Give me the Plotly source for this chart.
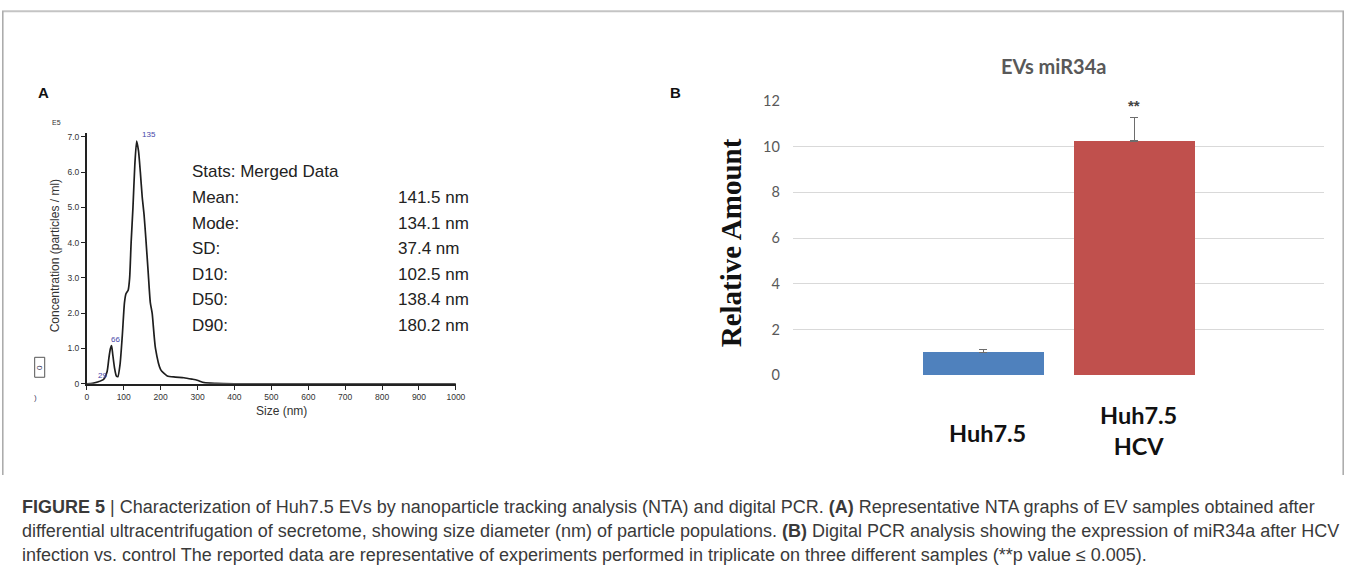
import plotly.graph_objects as go

W, H = 1354, 567

# ---- Panel A: NTA size distribution (concentration in units of 1E5 particles/ml)
size_nm = [0, 15, 29, 45, 55, 60, 64, 67, 70, 75, 80, 84, 90, 96, 102, 106, 112,
           116, 120, 125, 130, 135, 140, 145, 150, 155, 160, 166, 172, 177, 186,
           200, 218, 240, 263, 285, 299, 318, 350, 400, 600, 1000]
conc_e5 = [0, 0.01, 0.05, 0.12, 0.35, 0.75, 1.0, 1.08, 0.85, 0.45, 0.22, 0.2, 0.55,
           1.35, 2.3, 2.55, 2.65, 3.0, 4.0, 5.0, 6.2, 6.88, 6.6, 6.0, 5.3, 4.8,
           4.1, 3.2, 2.3, 2.0, 1.0, 0.4, 0.22, 0.19, 0.17, 0.13, 0.1, 0.03, 0.01,
           0, 0, 0]
peak_sizes = [135, 66, 29]
peak_conc = [6.88, 1.08, 0.05]

stat_names = ["Mean:", "Mode:", "SD:", "D10:", "D50:", "D90:"]
stat_values = ["141.5 nm", "134.1 nm", "37.4 nm", "102.5 nm", "138.4 nm", "180.2 nm"]

a_xticks = [0, 100, 200, 300, 400, 500, 600, 700, 800, 900, 1000]
a_yticks = [0, 1, 2, 3, 4, 5, 6, 7]
a_yticklabels = ["0", "1.0", "2.0", "3.0", "4.0", "5.0", "6.0", "7.0"]

# ---- Panel B: digital PCR, miR34a relative amount
groups = ["Huh7.5", "Huh7.5<br>HCV"]
rel_amount = [1.0, 10.26]
rel_err = [0.12, 1.02]
bar_colors = ["#4f81bd", "#c0504d"]
b_yticks = [0, 2, 4, 6, 8, 10, 12]

caption_lines = [
    "<b>FIGURE 5</b> | Characterization of Huh7.5 EVs by nanoparticle tracking analysis (NTA) and digital PCR. "
    "<b>(A)</b> Representative NTA graphs of EV samples obtained after",
    "differential ultracentrifugation of secretome, showing size diameter (nm) of particle populations. "
    "<b>(B)</b> Digital PCR analysis showing the expression of miR34a after HCV",
    "infection vs. control The reported data are representative of experiments performed in triplicate "
    "on three different samples (**p value \u2264 0.005).",
]

# Layout positions below are given in page pixels; the page adds an 8 px body
# margin around the figure and the whole page is fitted back to the window.
PAD = 8
SX = (W + 2 * PAD) / W
SY = (H + 2 * PAD) / H
XNUDGE = 3.5


def px(x):
    return ((x + XNUDGE) * SX - PAD) / W


def py(y):
    return 1 - (y * SY - PAD) / H


fig = go.Figure()

fig.add_trace(go.Scatter(
    x=size_nm, y=conc_e5, mode="lines",
    line=dict(color="#1e1e1e", width=1.7, shape="spline", smoothing=0.6),
    xaxis="x", yaxis="y", hoverinfo="skip", showlegend=False,
))

fig.add_trace(go.Bar(
    x=groups, y=rel_amount, width=0.797,
    marker=dict(color=bar_colors, line=dict(width=0)),
    error_y=dict(type="data", array=rel_err, arrayminus=[0, 0], symmetric=False,
                 color="#6d6d6d", thickness=1.6, width=4),
    xaxis="x2", yaxis="y2", showlegend=False,
))

a_tick_font = dict(family="Liberation Sans, Arial, sans-serif", size=8.5, color="#333")
fig.update_layout(
    width=W, height=H, autosize=False,
    margin=dict(l=0, r=0, t=0, b=0),
    paper_bgcolor="white", plot_bgcolor="rgba(0,0,0,0)",
    xaxis=dict(domain=[px(89), px(457)], range=[0, 1000], anchor="y",
               tickvals=a_xticks, ticks="outside", ticklen=4, tickwidth=1.2,
               tickcolor="#222", showline=True, linecolor="#222", linewidth=1.6,
               showgrid=False, zeroline=False, tickfont=a_tick_font),
    yaxis=dict(domain=[py(383.5), py(132.4)], range=[0, 7.1], anchor="x",
               tickvals=a_yticks, ticktext=a_yticklabels, ticks="outside",
               ticklen=4, tickwidth=1.2, tickcolor="#222", showline=True,
               linecolor="#222", linewidth=1.6, showgrid=False, zeroline=False,
               tickfont=a_tick_font),
    xaxis2=dict(domain=[px(793), px(1323)], range=[-1.262, 2.259], anchor="y2",
                type="category", showticklabels=False, ticks="", showgrid=False,
                zeroline=False, showline=False),
    yaxis2=dict(domain=[py(375), py(100)], range=[0, 12], anchor="x2",
                tickvals=b_yticks, ticks="", showline=False, showgrid=True,
                gridcolor="#d9d9d9", gridwidth=1.3, zeroline=False,
                ticklabelstandoff=12,
                tickfont=dict(family="Lato, Open Sans, sans-serif", size=14.5,
                              color="#595959")),
    bargap=0,
)

ann = []
sans = "Liberation Sans, Arial, sans-serif"

# panel letters
ann.append(dict(x=px(38), y=py(92), text="<b>A</b>", xanchor="left", yanchor="middle",
                font=dict(family=sans, size=15, color="#111")))
ann.append(dict(x=px(669), y=py(92), text="<b>B</b>", xanchor="left", yanchor="middle",
                font=dict(family=sans, size=15, color="#111")))

# panel A decorations
ann.append(dict(x=px(52), y=py(122), text="E5", xanchor="left", yanchor="middle",
                font=dict(family=sans, size=7, color="#333")))
ann.append(dict(x=px(57), y=py(255), text="Concentration (particles / ml)", textangle=-90,
                xanchor="center", yanchor="middle",
                font=dict(family=sans, size=12, color="#333")))
ann.append(dict(x=px(283), y=py(411), text="Size (nm)", xanchor="center", yanchor="middle",
                font=dict(family=sans, size=12, color="#333")))
ann.append(dict(x=px(42), y=py(367), text="0", xanchor="center", yanchor="middle", textangle=-90,
                font=dict(family=sans, size=8, color="#335")))
ann.append(dict(x=px(38), y=py(397), text=")", xanchor="center", yanchor="middle",
                font=dict(family=sans, size=8, color="#446")))
for s, c in zip(peak_sizes, peak_conc):
    ann.append(dict(x=s, y=c, xref="x", yref="y", text=str(s), xanchor="left",
                    yanchor="bottom", xshift=3 if s > 100 else -2, yshift=0,
                    font=dict(family=sans, size=8, color="#4646a8")))

# stats box text
ann.append(dict(x=px(192), y=py(171), text="Stats: Merged Data", xanchor="left", yanchor="middle",
                font=dict(family=sans, size=17, color="#222")))
for i, (n, v) in enumerate(zip(stat_names, stat_values)):
    yy = 197 + i * 25.6
    ann.append(dict(x=px(192), y=py(yy), text=n, xanchor="left", yanchor="middle",
                    font=dict(family=sans, size=17, color="#222")))
    ann.append(dict(x=px(397), y=py(yy), text=v, xanchor="left", yanchor="middle",
                    font=dict(family=sans, size=17, color="#222")))

# panel B text
ann.append(dict(x=px(1053), y=py(65), text="<b>EVs miR34a</b>", xanchor="center", yanchor="middle",
                font=dict(family="Lato, Open Sans, sans-serif", size=20, color="#595959")))
ann.append(dict(x=px(731), y=py(242), text="<b>Relative Amount</b>", textangle=-90,
                xanchor="center", yanchor="middle",
                font=dict(family="Liberation Serif, Times New Roman, serif", size=29, color="#111")))
ann.append(dict(x=groups[1], y=rel_amount[1] + rel_err[1], xref="x2", yref="y2", text="<b>**</b>",
                xanchor="center", yanchor="bottom", yshift=1,
                font=dict(family=sans, size=15, color="#444")))
label_y = [433, 430]
for g, ly in zip(groups, label_y):
    ann.append(dict(x=g, y=py(ly), xref="x2", yref="paper", text="<b>" + g + "</b>",
                    xanchor="center", yanchor="middle", xshift=4,
                    font=dict(family="Lato, Open Sans, sans-serif", size=23.5, color="#111")))

# caption
for i, line in enumerate(caption_lines):
    ann.append(dict(x=px(22), y=py(507 + i * 24), text=line, xanchor="left", yanchor="middle",
                    font=dict(family=sans, size=18, color="#3a3a3a")))

for a in ann:
    a.setdefault("xref", "paper")
    a.setdefault("yref", "paper")
    a.setdefault("showarrow", False)
fig.update_layout(annotations=ann)

# figure frame and the small box at the left edge of panel A
shapes = [
    dict(type="line", xref="paper", yref="paper", x0=0, x1=1, y0=py(10), y1=py(10),
         line=dict(color="#c4c4c4", width=2)),
    dict(type="line", xref="paper", yref="paper", x0=0.0006, x1=0.0006, y0=py(10), y1=py(475),
         line=dict(color="#a8a8a8", width=1.5)),
    dict(type="line", xref="paper", yref="paper", x0=0.9994, x1=0.9994, y0=py(10), y1=py(475),
         line=dict(color="#a8a8a8", width=1.5)),
    dict(type="rect", xref="paper", yref="paper", x0=px(37), x1=px(47), y0=py(377), y1=py(357),
         line=dict(color="#555", width=1)),
]
fig.update_layout(shapes=shapes)

fig.write_html("out.html")
